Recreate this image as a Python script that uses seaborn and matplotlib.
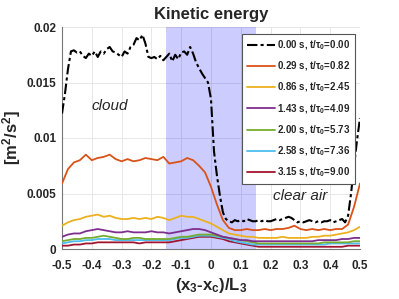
import matplotlib
matplotlib.use("Agg")
import matplotlib.pyplot as plt
import seaborn as sns
import numpy as np

sns.set_theme(style="white")
plt.rcParams['font.family'] = ['Liberation Sans', 'DejaVu Sans']
plt.rcParams['mathtext.fontset'] = 'custom'
plt.rcParams['mathtext.rm'] = 'Liberation Sans:bold'
plt.rcParams['mathtext.it'] = 'Liberation Sans:bold'
plt.rcParams['mathtext.bf'] = 'Liberation Sans:bold'
plt.rcParams['axes.unicode_minus'] = False

# ---------------- data ----------------
x_fine = [-0.50, -0.49, -0.48, -0.47, -0.46, -0.45, -0.44, -0.43, -0.42, -0.41,
          -0.40, -0.39, -0.38, -0.37, -0.36, -0.35, -0.34, -0.33, -0.32, -0.31,
          -0.30, -0.29, -0.28, -0.27, -0.26, -0.25, -0.24, -0.23, -0.22, -0.21,
          -0.20, -0.19, -0.18, -0.17, -0.16, -0.15, -0.14, -0.13, -0.12, -0.11,
          -0.10, -0.09, -0.08, -0.07, -0.06, -0.05, -0.04, -0.03, -0.02, -0.01,
          0.00, 0.01, 0.02, 0.03, 0.04, 0.05, 0.06, 0.07, 0.08, 0.09,
          0.10, 0.11, 0.12, 0.13, 0.14, 0.15, 0.16, 0.17, 0.18, 0.19,
          0.20, 0.21, 0.22, 0.23, 0.24, 0.25, 0.26, 0.27, 0.28, 0.29,
          0.30, 0.31, 0.32, 0.33, 0.34, 0.35, 0.36, 0.37, 0.38, 0.39,
          0.40, 0.41, 0.42, 0.43, 0.44, 0.45, 0.46, 0.47, 0.48, 0.49, 0.50]

ke_t000 = [0.0122, 0.0140, 0.0162, 0.0178, 0.0179, 0.0177, 0.0178, 0.0174, 0.0172, 0.0176,
           0.0174, 0.0178, 0.0173, 0.0178, 0.0176, 0.0180, 0.0182, 0.0178, 0.0177, 0.0175,
           0.0173, 0.0178, 0.0176, 0.0182, 0.0184, 0.0190, 0.0188, 0.0193, 0.0185, 0.0173,
           0.0172, 0.0173, 0.0171, 0.0174, 0.0170, 0.0173, 0.0176, 0.0169, 0.0175, 0.0171,
           0.0177, 0.0178, 0.0175, 0.0182, 0.0176, 0.0168, 0.0163, 0.0158, 0.0154, 0.0150,
           0.0135, 0.0088, 0.0066, 0.0048, 0.0033, 0.0027, 0.0025, 0.0024, 0.0026, 0.0025,
           0.0026, 0.0025, 0.0027, 0.0026, 0.0025, 0.0025, 0.0026, 0.0025, 0.0026, 0.0025,
           0.0025, 0.0026, 0.0027, 0.0026, 0.0027, 0.0028, 0.0029, 0.0028, 0.0026, 0.0024,
           0.0025, 0.0024, 0.0025, 0.0026, 0.0025, 0.0024, 0.0025, 0.0024, 0.0025, 0.0025,
           0.0026, 0.0024, 0.0025, 0.0026, 0.0027, 0.0024, 0.0030, 0.0050, 0.0075, 0.0098, 0.0118]

x_coarse = [-0.50, -0.48, -0.46, -0.44, -0.42, -0.40, -0.38, -0.36, -0.34, -0.32,
            -0.30, -0.28, -0.26, -0.24, -0.22, -0.20, -0.18, -0.16, -0.14, -0.12,
            -0.10, -0.08, -0.06, -0.04, -0.02, 0.00, 0.02, 0.04, 0.06, 0.08,
            0.10, 0.12, 0.14, 0.16, 0.18, 0.20, 0.22, 0.24, 0.26, 0.28,
            0.30, 0.32, 0.34, 0.36, 0.38, 0.40, 0.42, 0.44, 0.46, 0.48, 0.50]

ke_t029 = [0.0059, 0.0072, 0.0078, 0.0080, 0.0085, 0.0080, 0.0082, 0.0083, 0.0085, 0.0081,
           0.0079, 0.0081, 0.0079, 0.0080, 0.0082, 0.0081, 0.0080, 0.0083, 0.0077, 0.0078,
           0.0079, 0.0082, 0.0080, 0.0075, 0.0069, 0.0056, 0.0040, 0.0026, 0.0019, 0.0017,
           0.0017, 0.0018, 0.0017, 0.0017, 0.0018, 0.0017, 0.0018, 0.0018, 0.0019, 0.0021,
           0.0018, 0.0017, 0.0018, 0.0017, 0.0018, 0.0017, 0.0018, 0.0018, 0.0022, 0.0038, 0.0059]

ke_t086 = [0.0021, 0.0024, 0.0026, 0.0027, 0.0029, 0.0030, 0.0031, 0.0029, 0.0030, 0.0028,
           0.0027, 0.0027, 0.0028, 0.0027, 0.0028, 0.0027, 0.0029, 0.0028, 0.0026, 0.0028,
           0.0030, 0.0029, 0.0029, 0.0027, 0.0025, 0.0023, 0.0020, 0.0017, 0.0014, 0.0013,
           0.0012, 0.0011, 0.0011, 0.0010, 0.0010, 0.0010, 0.0010, 0.0011, 0.0010, 0.0010,
           0.0010, 0.0010, 0.0011, 0.0011, 0.0012, 0.0012, 0.0013, 0.0014, 0.0015, 0.0017, 0.0020]

ke_t143 = [0.0011, 0.0013, 0.0014, 0.0014, 0.0016, 0.0017, 0.0018, 0.0017, 0.0016, 0.0015,
           0.0015, 0.0016, 0.0015, 0.0015, 0.0015, 0.0016, 0.0015, 0.0015, 0.0014, 0.0015,
           0.0016, 0.0017, 0.0018, 0.0018, 0.0017, 0.0015, 0.0013, 0.0011, 0.0010, 0.0009,
           0.0008, 0.0008, 0.0007, 0.0007, 0.0007, 0.0007, 0.0007, 0.0007, 0.0007, 0.0007,
           0.0007, 0.0007, 0.0007, 0.0008, 0.0008, 0.0008, 0.0008, 0.0009, 0.0009, 0.0010, 0.0010]

ke_t200 = [0.0007, 0.0008, 0.0009, 0.0009, 0.0010, 0.0010, 0.0011, 0.0012, 0.0011, 0.0010,
           0.0009, 0.0009, 0.0010, 0.0010, 0.0009, 0.0009, 0.0009, 0.0009, 0.0009, 0.0010,
           0.0011, 0.0011, 0.0012, 0.0013, 0.0013, 0.0013, 0.0012, 0.0011, 0.0010, 0.0009,
           0.0008, 0.0007, 0.0006, 0.0005, 0.0005, 0.0005, 0.0005, 0.0005, 0.0005, 0.0005,
           0.0005, 0.0005, 0.0005, 0.0005, 0.0006, 0.0006, 0.0006, 0.0006, 0.0006, 0.0007, 0.0007]

ke_t258 = [0.0005, 0.0006, 0.0007, 0.0007, 0.0008, 0.0008, 0.0009, 0.0009, 0.0009, 0.0008,
           0.0008, 0.0008, 0.0008, 0.0008, 0.0008, 0.0008, 0.0008, 0.0008, 0.0008, 0.0009,
           0.0010, 0.0010, 0.0011, 0.0012, 0.0012, 0.0012, 0.0011, 0.0010, 0.0009, 0.0007,
           0.0006, 0.0005, 0.0004, 0.0004, 0.0004, 0.0004, 0.0004, 0.0004, 0.0004, 0.0004,
           0.0004, 0.0004, 0.0004, 0.0004, 0.0004, 0.0005, 0.0005, 0.0005, 0.0005, 0.0005, 0.0005]

ke_t315 = [0.0003, 0.0003, 0.0004, 0.0004, 0.0005, 0.0005, 0.0006, 0.0006, 0.0006, 0.0006,
           0.0006, 0.0006, 0.0006, 0.0005, 0.0006, 0.0006, 0.0006, 0.0006, 0.0006, 0.0007,
           0.0008, 0.0009, 0.0010, 0.0011, 0.0011, 0.0011, 0.0010, 0.0009, 0.0007, 0.0006,
           0.0005, 0.0004, 0.0003, 0.0002, 0.0002, 0.0002, 0.0002, 0.0002, 0.0002, 0.0002,
           0.0002, 0.0002, 0.0002, 0.0002, 0.0002, 0.0002, 0.0002, 0.0002, 0.0003, 0.0003, 0.0003]

labels = [r'0.00 s, t/$\tau_0$=0.00', r'0.29 s, t/$\tau_0$=0.82', r'0.86 s, t/$\tau_0$=2.45',
          r'1.43 s, t/$\tau_0$=4.09', r'2.00 s, t/$\tau_0$=5.73', r'2.58 s, t/$\tau_0$=7.36',
          r'3.15 s, t/$\tau_0$=9.00']

xticks = [-0.5, -0.4, -0.3, -0.2, -0.1, 0, 0.1, 0.2, 0.3, 0.4, 0.5]
xticklabels = ['-0.5', '-0.4', '-0.3', '-0.2', '-0.1', '0', '0.1', '0.2', '0.3', '0.4', '0.5']
yticks = [0, 0.005, 0.01, 0.015, 0.02]
yticklabels = ['0', '0.005', '0.01', '0.015', '0.02']
shade_range = [-0.15, 0.15]

# ---------------- plot ----------------
colors = ['black', (0.85, 0.325, 0.098), (0.929, 0.694, 0.125), (0.494, 0.184, 0.556),
          (0.466, 0.674, 0.188), (0.301, 0.745, 0.933), (0.635, 0.078, 0.184)]

fig = plt.figure(figsize=(3.99, 2.99), dpi=100)
ax = fig.add_axes([62/399, 1-249/299, 298/399, 222/299])

ax.axvspan(shade_range[0], shade_range[1], color='blue', alpha=0.2, lw=0, zorder=1)

series = [(x_fine, ke_t000), (x_coarse, ke_t029), (x_coarse, ke_t086), (x_coarse, ke_t143),
          (x_coarse, ke_t200), (x_coarse, ke_t258), (x_coarse, ke_t315)]
for i, ((xs, ys), c, lab) in enumerate(zip(series, colors, labels)):
    if i == 0:
        sns.lineplot(x=xs, y=ys, ax=ax, color=c, linestyle=(0, (5, 1.5, 1.5, 1.5)), lw=1.5,
                     label=lab, zorder=5)
    else:
        sns.lineplot(x=xs, y=ys, ax=ax, color=c, lw=1.3, label=lab, zorder=4 - i * 0.1)

ax.set_xlim(-0.5, 0.5)
ax.set_ylim(0, 0.02)
ax.set_xticks(xticks)
ax.set_xticklabels(xticklabels, fontsize=8.5, fontweight='bold', color='#262626')
ax.set_yticks(yticks)
ax.set_yticklabels(yticklabels, fontsize=8.5, fontweight='bold', color='#262626')
ax.tick_params(direction='in', length=3, width=0.6, color='#555555')
ax.tick_params(axis='x', pad=8)
ax.tick_params(axis='y', pad=4)
ax.grid(True, color='#e3e3e3', lw=0.6, zorder=0)
ax.set_axisbelow(True)
for s in ['top', 'right']:
    ax.spines[s].set_visible(False)
for s in ['left', 'bottom']:
    ax.spines[s].set_color('#777777')
    ax.spines[s].set_linewidth(0.8)

ax.set_title('Kinetic energy', fontsize=12, fontweight='bold', pad=6)
ax.set_xlabel(r'(x$_3$-x$_c$)/L$_3$', fontsize=12, fontweight='bold', labelpad=3)
ax.set_ylabel(r'[m$^2$/s$^2$]', fontsize=12, fontweight='bold', labelpad=3)

ax.text(-0.34, 0.0129, 'cloud', fontsize=11, style='italic', ha='center', va='center')
ax.text(0.30, 0.0048, 'clear air', fontsize=11, style='italic', ha='center', va='center')

leg = ax.legend(loc='upper right', bbox_to_anchor=(0.982, 0.968), fontsize=7,
                handlelength=2.9, labelspacing=0.78, borderpad=0.45, handletextpad=0.2,
                fancybox=False, framealpha=1, edgecolor='#555555', borderaxespad=0)
leg.get_frame().set_linewidth(0.8)
for t in leg.get_texts():
    t.set_fontweight('bold')

fig.savefig('out.png', dpi=100)
